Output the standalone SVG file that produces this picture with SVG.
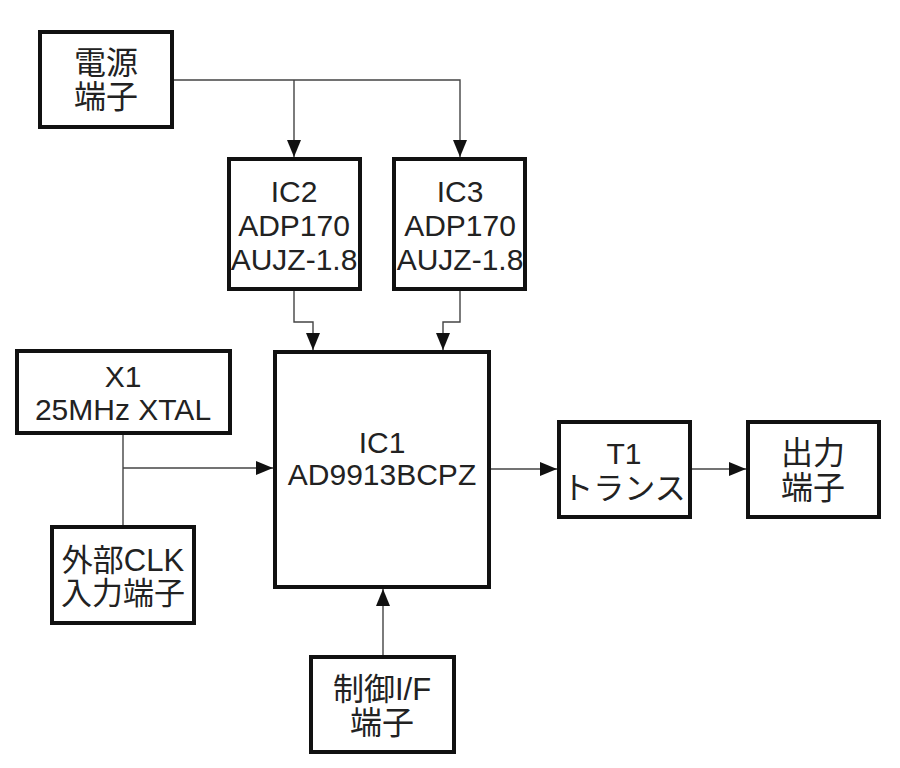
<svg xmlns="http://www.w3.org/2000/svg" width="900" height="768" viewBox="0 0 900 768">
<style>
.box{fill:#fff;stroke:#111;stroke-width:4}
.t{font-family:"Liberation Sans","Noto Sans CJK JP",Arial,sans-serif;font-size:30px;fill:#222;text-anchor:middle;dominant-baseline:central}
.j{font-size:32px}
.m{font-size:31px}
.c{fill:none;stroke:#444;stroke-width:1.4}
</style>
<defs>
<marker id="a" markerUnits="userSpaceOnUse" markerWidth="17" markerHeight="14" refX="17" refY="7" orient="auto">
<path d="M0,0 L17,7 L0,14 Z" fill="#111"/>
</marker>
</defs>
<rect width="900" height="768" fill="#fff"/>
<g id="connectors">
<path class="c" d="M172,80 H460 V157" marker-end="url(#a)"/>
<path class="c" d="M294,80 V157" marker-end="url(#a)"/>
<path class="c" d="M294,289 V322 H313 V350" marker-end="url(#a)"/>
<path class="c" d="M460,289 V322 H443 V350" marker-end="url(#a)"/>
<path class="c" d="M123,433 V527"/>
<path class="c" d="M123,468 H273" marker-end="url(#a)"/>
<path class="c" d="M383,657 V589" marker-end="url(#a)"/>
<path class="c" d="M489,469 H557" marker-end="url(#a)"/>
<path class="c" d="M690,469 H746" marker-end="url(#a)"/>
</g>
<g id="power">
<rect class="box" x="40" y="32" width="132" height="95"/>
<text class="t j" x="106" y="63">電源</text>
<text class="t j" x="106" y="97">端子</text>
</g>
<g id="ic2">
<rect class="box" x="229" y="159" width="131" height="130"/>
<text class="t" x="294" y="191">IC2</text>
<text class="t" x="294" y="225">ADP170</text>
<text class="t" x="294" y="259">AUJZ-1.8</text>
</g>
<g id="ic3">
<rect class="box" x="394" y="159" width="131" height="130"/>
<text class="t" x="460" y="191">IC3</text>
<text class="t" x="460" y="225">ADP170</text>
<text class="t" x="460" y="259">AUJZ-1.8</text>
</g>
<g id="x1">
<rect class="box" x="17" y="351" width="213" height="82"/>
<text class="t" x="123" y="376">X1</text>
<text class="t" x="123" y="409">25MHz XTAL</text>
</g>
<g id="ic1">
<rect class="box" x="275" y="352" width="214" height="235"/>
<text class="t" x="382" y="442">IC1</text>
<text class="t" x="382" y="474">AD9913BCPZ</text>
</g>
<g id="extclk">
<rect class="box" x="52" y="527" width="142" height="96"/>
<text class="t m" x="123" y="560">外部CLK</text>
<text class="t m" x="123" y="593">入力端子</text>
</g>
<g id="ctrl">
<rect class="box" x="311" y="657" width="143" height="95"/>
<text class="t m" x="382" y="689">制御I/F</text>
<text class="t j" x="382" y="723">端子</text>
</g>
<g id="t1">
<rect class="box" x="559" y="422" width="131" height="95"/>
<text class="t" x="624" y="453">T1</text>
<text class="t m" x="624" y="488">トランス</text>
</g>
<g id="out">
<rect class="box" x="748" y="422" width="131" height="95"/>
<text class="t j" x="813" y="453">出力</text>
<text class="t j" x="813" y="488">端子</text>
</g>
</svg>
